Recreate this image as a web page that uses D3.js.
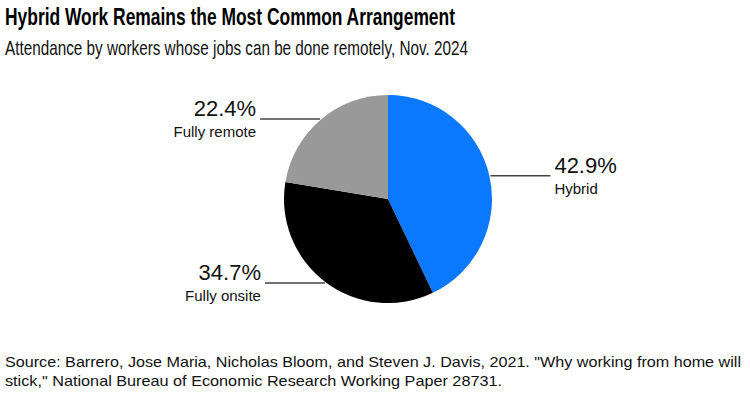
<!DOCTYPE html>
<html>
<head>
<meta charset="utf-8">
<script src="https://cdn.jsdelivr.net/npm/d3@7"></script>
<style>
  body { margin: 0; background: #fff; }
  text { font-family: "Liberation Sans", Arial, sans-serif; }
</style>
</head>
<body>
<svg id="chart"></svg>
<script>
// data
const categories = ["Hybrid", "Fully onsite", "Fully remote"];
const shares = [42.9, 34.7, 22.4];
const sliceColors = ["#0a78ff", "#000000", "#999999"];

let dimensions = {
    width: 750,
    height: 396,
    cx: 388,
    cy: 199,
    radius: 104,
    leader: 60,
};

const svg = d3.select("#chart")
    .attr("width", dimensions.width)
    .attr("height", dimensions.height);

// title + subtitle
svg.append("text")
    .attr("x", 5).attr("y", 25)
    .attr("font-size", 24)
    .attr("font-weight", "bold")
    .attr("textLength", 450)
    .attr("lengthAdjust", "spacingAndGlyphs")
    .attr("fill", "#000")
    .text("Hybrid Work Remains the Most Common Arrangement");

svg.append("text")
    .attr("x", 5).attr("y", 55)
    .attr("font-size", 21)
    .attr("textLength", 463)
    .attr("lengthAdjust", "spacingAndGlyphs")
    .attr("fill", "#111")
    .text("Attendance by workers whose jobs can be done remotely, Nov. 2024");

const data = categories.map((c, i) => ({ name: c, value: shares[i], color: sliceColors[i] }));

const pie = d3.pie()
    .value(d => d.value)
    .sort(null);

const arc = d3.arc()
    .innerRadius(0)
    .outerRadius(dimensions.radius);

const g = svg.append("g")
    .attr("transform", `translate(${dimensions.cx}, ${dimensions.cy})`);

const arcs = pie(data);

g.selectAll("path")
    .data(arcs)
    .join("path")
    .attr("d", arc)
    .attr("fill", d => d.data.color);

// labels with horizontal leaders
arcs.forEach(a => {
    const mid = (a.startAngle + a.endAngle) / 2;
    const x0 = Math.sin(mid) * (dimensions.radius + 1);
    const y0 = -Math.cos(mid) * (dimensions.radius + 1);
    const right = Math.sin(mid) > 0;
    const x1 = right ? x0 + dimensions.leader : x0 - dimensions.leader;

    g.append("line")
        .attr("x1", x0).attr("y1", y0)
        .attr("x2", x1).attr("y2", y0)
        .attr("stroke", "#444")
        .attr("stroke-width", 1.5);

    const tx = right ? x1 + 4 : x1 - 4;
    const anchor = right ? "start" : "end";

    g.append("text")
        .attr("x", tx).attr("y", y0 - 3)
        .attr("text-anchor", anchor)
        .attr("font-size", 22)
        .attr("fill", "#111")
        .text(a.data.value.toFixed(1) + "%");

    g.append("text")
        .attr("x", tx).attr("y", y0 + 18)
        .attr("text-anchor", anchor)
        .attr("font-size", 15)
        .attr("fill", "#111")
        .text(a.data.name);
});

// source note
const source = [
    "Source: Barrero, Jose Maria, Nicholas Bloom, and Steven J. Davis, 2021. \"Why working from home will",
    "stick,\" National Bureau of Economic Research Working Paper 28731."
];
const sourceWidths = [736, 497];
source.forEach((s, i) => {
    svg.append("text")
        .attr("x", 5).attr("y", 367 + i * 19)
        .attr("font-size", 15)
        .attr("textLength", sourceWidths[i])
        .attr("lengthAdjust", "spacingAndGlyphs")
        .attr("fill", "#111")
        .text(s);
});
</script>
</body>
</html>
